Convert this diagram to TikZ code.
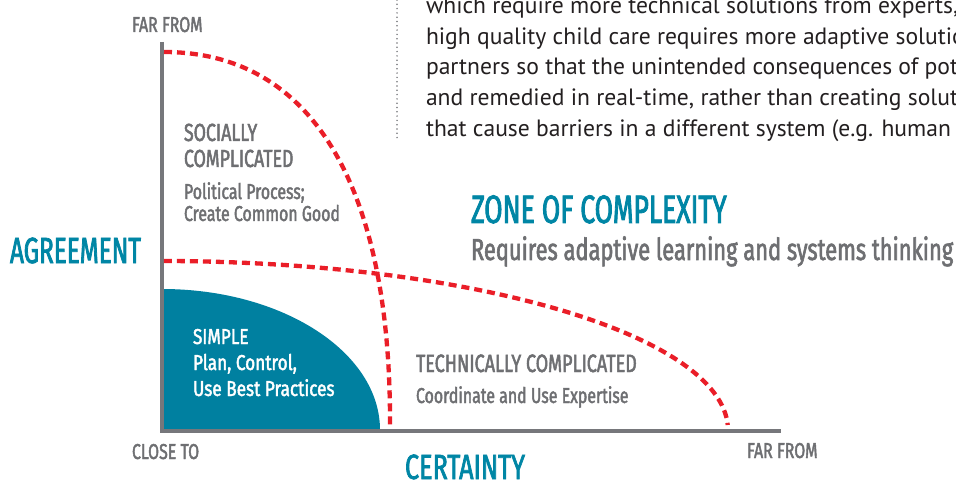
\documentclass[tikz,border=0pt]{standalone}
\usepackage{fontspec}
\setmainfont{PT Sans}
\newfontfamily\dinfont[FakeStretch=0.72, FakeBold=1.9]{Fira Sans}
\newfontfamily\dinmid[FakeStretch=0.74, FakeBold=1.9]{Fira Sans}
\newfontfamily\dinwide[FakeStretch=0.80, FakeBold=1.9]{Fira Sans}
\newfontfamily\dinnarrow[FakeStretch=0.67, FakeBold=2.1]{Fira Sans}
\definecolor{labelgray}{RGB}{110,111,114}
\definecolor{axisgray}{RGB}{118,119,123}
\definecolor{zoneteal}{RGB}{0,128,160}
\definecolor{titleteal}{RGB}{0,134,165}
\definecolor{borderred}{RGB}{234,30,40}
\definecolor{bodytext}{RGB}{35,31,32}
\newcommand\fsz[1]{\fontsize{#1}{#1}\selectfont}
\begin{document}
\begin{tikzpicture}[x=1pt,y=-1pt,
  lbl/.style={anchor=base west, inner sep=0pt, outer sep=0pt, text=labelgray},
  ttl/.style={anchor=base west, inner sep=0pt, outer sep=0pt, text=titleteal},
  body/.style={anchor=base west, inner sep=0pt, outer sep=0pt, text=bodytext, font=\fsz{23.6}},
  zoneline/.style={draw=borderred, line width=4.3pt, dash pattern=on 8pt off 5pt},
  axisline/.style={draw=axisgray, line width=3.5pt}]
\useasboundingbox (0,0) rectangle (956,481);
\clip (0,0) rectangle (956,481);
\fill[white] (0,0) rectangle (956,481);

% dotted rule beside the text column
\coordinate (ruletop) at (397,0);
\coordinate (rulebot) at (397,140);
\draw[axisgray, line width=1.7pt, line cap=round, dash pattern=on 0pt off 4.3pt] (ruletop) -- (rulebot);

% text column
\node[body] (p1) at (426,14) {which require more technical solutions from experts, to};
\node[body] (p2) at (426,45) {high quality child care requires more adaptive solutions};
\node[body] (p3) at (426,75) {partners so that the unintended consequences of potential};
\node[body] (p4) at (426,106) {and remedied in real-time, rather than creating solutions};
\node[body] (p5) at (426,137) {that cause barriers in a different system (e.g. human services};

% simple zone
\fill[zoneteal] (162,430) -- (162,289) arc[start angle=-90, end angle=0, x radius=218, y radius=141] -- cycle;

% axes
\coordinate (origin) at (162,431);
\coordinate (ytop) at (162,42);
\coordinate (xend) at (781,431);
\draw[axisline] (ytop) -- (origin);
\draw[axisline] ([xshift=-1.75pt]origin) -- (xend);

% zone boundaries
\draw[zoneline] (164,52) .. controls (312,52) and (391,186) .. (390,426);
\draw[zoneline] plot[domain=89.8:1.7, samples=80, smooth] ({162+566*cos(\x)},{430-169*sin(\x)});

% labels
\node[lbl, font=\dinmid\fsz{21.5}] (farfromy) at (132,32) {FAR FROM};
\node[lbl, font=\dinmid\fsz{21.5}] (closeto) at (132,459) {CLOSE TO};
\node[lbl, font=\dinmid\fsz{21.5}] (farfromx) at (747,458) {FAR FROM};
\node[ttl, font=\dinnarrow\fsz{36.3}] (agree) at (10,263) {AGREEMENT};
\node[ttl, font=\dinfont\fsz{35}] (cert) at (405,479) {CERTAINTY};

\node[lbl, font=\dinfont\fsz{24.7}] (soc1) at (184,141) {SOCIALLY};
\node[lbl, font=\dinfont\fsz{24.7}] (soc2) at (184,167) {COMPLICATED};
\node[lbl, font=\dinmid\fsz{21.5}] (soc3) at (184,199) {Political Process;};
\node[lbl, font=\dinmid\fsz{21.5}] (soc4) at (184,221) {Create Common Good};

\node[lbl, text=white, font=\dinwide\fsz{21.5}] (sim1) at (193,344) {SIMPLE};
\node[lbl, text=white, font=\dinwide\fsz{21.5}] (sim2) at (193,370) {Plan, Control,};
\node[lbl, text=white, font=\dinwide\fsz{21.5}] (sim3) at (193,396) {Use Best Practices};

\node[lbl, font=\dinfont\fsz{25}] (tec1) at (416,372) {TECHNICALLY COMPLICATED};
\node[lbl, font=\dinmid\fsz{21.5}] (tec2) at (416,403) {Coordinate and Use Expertise};

\node[ttl, font=\dinnarrow\fsz{39.6}] (zone1) at (471,223) {ZONE OF COMPLEXITY};
\node[lbl, font=\dinfont\fsz{30.4}] (zone2) at (471,260) {Requires adaptive learning and systems thinking};
\end{tikzpicture}
\end{document}
